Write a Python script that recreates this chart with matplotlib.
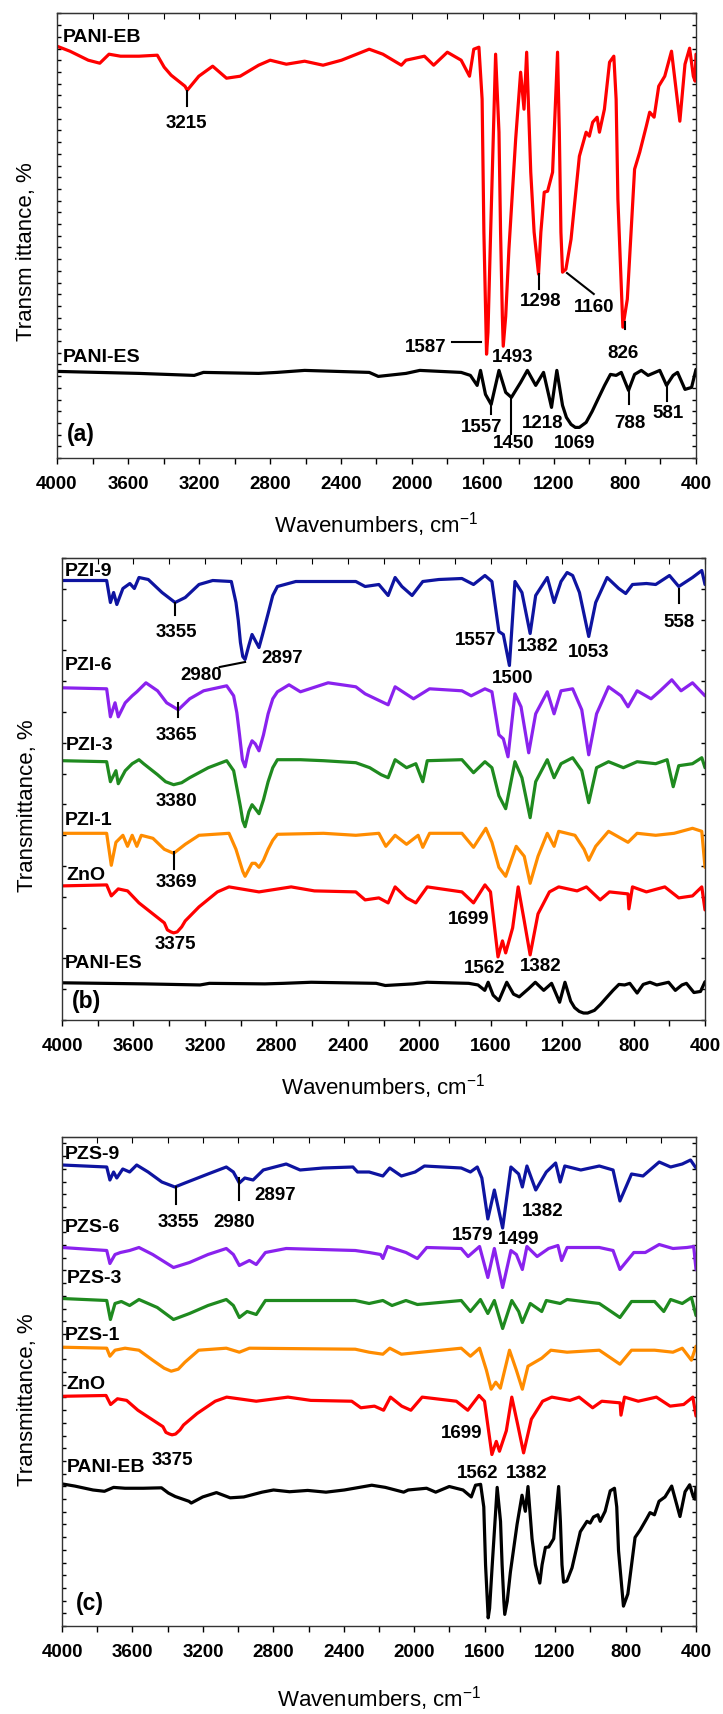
import numpy as np
import matplotlib
matplotlib.use("Agg")
import matplotlib.pyplot as plt
from matplotlib.ticker import MultipleLocator

plt.rcParams['font.family'] = ['Liberation Sans', 'DejaVu Sans']
plt.rcParams['mathtext.default'] = 'regular'

# spectra: wavenumber (cm-1) and transmittance relative to the 4000 cm-1 point (a.u.)
pani_eb_wn = [4000, 3927, 3824, 3759, 3707, 3642, 3538, 3435, 3396, 3357, 3279, 3266, 3201, 3123, 3045,
              2968, 2864, 2799, 2708, 2605, 2501, 2397, 2241, 2164, 2060, 2034, 1930, 1878, 1801, 1723,
              1676, 1652, 1623, 1605, 1595, 1580, 1572, 1557, 1529, 1510, 1501, 1491, 1486, 1472, 1454,
              1416, 1388, 1369, 1354, 1331, 1312, 1287, 1274, 1255, 1236, 1208, 1180, 1170, 1161, 1152,
              1133, 1104, 1057, 1019, 1001, 982, 957, 944, 916, 887, 863, 850, 840, 812, 787,
              746, 717, 680, 661, 636, 610, 576, 538, 491, 462, 436, 415, 405, 400]
pani_eb_t = [0, -5, -14, -17, -8, -10, -10, -9, -21, -29, -40, -44, -30, -20, -32,
             -30, -19, -14, -18, -15, -19, -14, -3, -8, -19, -14, -10, -19, -6, -14,
             -30, -3, -1, -53, -186, -308, -286, -186, -8, -86, -186, -270, -300, -270, -203,
             -93, -26, -63, -6, -126, -186, -228, -186, -146, -145, -126, -6, -86, -186, -226,
             -223, -193, -110, -86, -90, -76, -71, -86, -63, -16, -10, -53, -153, -281, -253,
             -123, -106, -80, -66, -71, -40, -30, -5, -75, -18, -2, -30, -35, -8]

pani_es_wn = [4000, 3538, 3227, 3175, 2864, 2760, 2605, 2241, 2190, 2034, 1956, 1723, 1671, 1633, 1614,
              1586, 1554, 1510, 1472, 1440, 1388, 1350, 1303, 1259, 1214, 1184, 1152, 1130, 1104, 1080,
              1057, 1019, 985, 953, 915, 882, 850, 821, 780, 746, 708, 670, 604, 566, 529, 504, 462,
              425, 400]
pani_es_t = [0, -2, -4, -1, -2, -1, 1, -1, -5, -2, 1, -1, -4, -14, 1,
             -23, -33, 1, -21, -26, -11, 1, -14, -1, -36, 1, -34, -46, -53, -56,
             -56, -51, -40, -28, -14, -3, -4, -1, -19, -3, 1, -4, 1, -14, -4, -1, -18,
             -16, 2]

pzi9_wn = [4000, 3827, 3750, 3729, 3711, 3693, 3659, 3620, 3595, 3569, 3517, 3440, 3367, 3310, 3233,
           3156, 3052, 3026, 3013, 3001, 2988, 2975, 2954, 2936, 2918, 2897, 2877, 2846, 2820, 2794,
           2691, 2536, 2355, 2303, 2226, 2174, 2135, 2097, 2040, 1980, 1890, 1761, 1696, 1632, 1593,
           1554, 1529, 1495, 1464, 1425, 1379, 1348, 1283, 1245, 1206, 1172, 1141, 1103, 1051, 1012,
           948, 883, 844, 806, 728, 676, 599, 547, 470, 418, 400]
pzi9_t = [0, 0, 0, -22, -12, -24, -8, -3, -8, 3, 1, -12, -22, -17, -4,
          0, -1, -22, -40, -62, -76, -79, -65, -54, -60, -67, -54, -33, -15, -6,
          -1, -1, -1, -6, -4, -15, 3, -6, -15, -1, 1, 2, -4, 5, -1,
          -51, -54, -85, -1, -12, -53, -15, 3, -22, -1, 8, 5, -12, -56, -22,
          3, -8, -13, -4, -3, -4, 5, -6, 3, 10, -4]

pzi6_wn = [4000, 3750, 3729, 3703, 3685, 3646, 3607, 3581, 3530, 3465, 3414, 3349, 3285, 3207, 3078,
           3039, 3021, 3006, 2990, 2975, 2954, 2936, 2918, 2897, 2872, 2846, 2820, 2794, 2729, 2665,
           2510, 2355, 2303, 2174, 2135, 2032, 1942, 1761, 1709, 1632, 1593, 1554, 1529, 1503, 1464,
           1430, 1387, 1348, 1283, 1245, 1206, 1141, 1090, 1051, 1007, 940, 870, 831, 780, 702,
           651, 586, 534, 470, 400]
pzi6_t = [0, -1, -29, -15, -29, -15, -8, -4, 5, -3, -15, -22, -11, -3, 2,
          -8, -25, -47, -72, -79, -61, -53, -56, -63, -47, -26, -11, -4, 3, -4,
          5, 1, -6, -17, 1, -11, -1, -3, -8, -1, -4, -47, -51, -69, -6,
          -19, -65, -26, -4, -26, -3, -1, -22, -67, -26, 1, -8, -19, -3, -11,
          -3, 8, -3, 5, -8]

pzi3_wn = [4000, 3750, 3729, 3698, 3685, 3646, 3607, 3569, 3543, 3465, 3420, 3375, 3330, 3285, 3181,
           3078, 3039, 3001, 2988, 2975, 2954, 2936, 2918, 2897, 2872, 2846, 2820, 2794, 2665, 2536,
           2355, 2277, 2213, 2174, 2135, 2071, 2019, 1980, 1955, 1761, 1696, 1632, 1593, 1554, 1516,
           1464, 1425, 1379, 1348, 1283, 1245, 1206, 1141, 1090, 1051, 1007, 940, 857, 780, 676,
           612, 578, 547, 470, 418, 400]
pzi3_t = [0, -1, -21, -10, -23, -10, -3, 1, -3, -14, -21, -24, -22, -17, -7,
          0, -10, -46, -60, -66, -51, -44, -48, -53, -39, -21, -7, 1, 1, 0,
          -2, -7, -14, -17, 1, -7, -3, -21, 0, 1, -12, -1, -7, -35, -48,
          -1, -17, -57, -21, 1, -17, -3, 3, -10, -42, -7, -1, -7, -1, -3,
          1, -26, -5, -3, 3, -7]

pzi1_wn = [4000, 3750, 3724, 3698, 3659, 3633, 3607, 3581, 3556, 3491, 3427, 3375, 3310, 3233, 3065,
           3026, 2988, 2975, 2936, 2918, 2897, 2872, 2846, 2820, 2794, 2536, 2355, 2226, 2187, 2135,
           2071, 2006, 1980, 1942, 1761, 1696, 1627, 1593, 1554, 1516, 1457, 1412, 1379, 1335, 1283,
           1245, 1219, 1128, 1077, 1051, 1012, 940, 831, 780, 676, 573, 470, 418, 400]
pzi1_t = [0, 0, -32, -9, -2, -13, -2, -13, -2, -5, -16, -20, -11, -2, 0,
          -16, -38, -43, -30, -30, -34, -27, -16, -7, -1, 0, -2, 0, -13, -2,
          -11, -2, -14, 0, 0, -14, 5, -9, -34, -43, -13, -23, -50, -23, 0,
          -13, 2, -2, -16, -27, -13, 2, -9, 0, -2, 0, 5, 2, -34]

zno_wn = [4000, 3750, 3724, 3685, 3633, 3569, 3491, 3427, 3410, 3390, 3375, 3355, 3330, 3310, 3233,
          3130, 3065, 2897, 2717, 2587, 2355, 2303, 2226, 2174, 2135, 2071, 2019, 1955, 1761, 1696,
          1632, 1601, 1559, 1534, 1516, 1477, 1446, 1412, 1379, 1335, 1271, 1219, 1116, 1064, 987,
          935, 831, 826, 806, 728, 625, 547, 470, 418, 400]
zno_t = [0, 1, -10, -3, -5, -17, -28, -37, -44, -46, -47, -46, -41, -35, -21,
         -6, -1, -6, -1, -5, -6, -14, -12, -17, -1, -12, -17, -1, -6, -17,
         1, -6, -71, -55, -67, -42, -1, -35, -69, -28, -6, -1, -5, -1, -14,
         -6, -8, -23, -1, -6, -1, -12, -10, -1, -24]

pzs9_wn = [4000, 3746, 3728, 3707, 3689, 3655, 3616, 3576, 3511, 3433, 3359, 3302, 3171, 3067, 3027,
           2993, 2962, 2915, 2857, 2727, 2648, 2518, 2348, 2322, 2256, 2178, 2139, 2073, 1995, 1942,
           1733, 1681, 1642, 1616, 1582, 1545, 1498, 1451, 1407, 1386, 1360, 1310, 1250, 1197, 1171,
           1145, 1054, 949, 871, 832, 766, 701, 609, 544, 478, 431, 400]
pzs9_t = [0, -2, -15, -7, -13, -4, -7, 0, -7, -17, -22, -18, -9, -2, -7,
          -18, -13, -15, -5, 1, -5, -3, -2, -7, -7, -11, -3, -11, -7, -1,
          -3, -7, -2, -13, -54, -25, -63, -2, -9, -22, -1, -25, -7, 2, -17,
          -1, -5, -1, -5, -36, -9, -11, 3, -2, 1, 5, -3]

pzs6_wn = [4000, 3746, 3728, 3699, 3668, 3616, 3563, 3485, 3367, 3276, 3171, 3067, 3027, 2993, 2936,
           2897, 2845, 2727, 2335, 2256, 2191, 2178, 2152, 2047, 1982, 1929, 1733, 1694, 1629, 1582,
           1545, 1498, 1451, 1420, 1386, 1360, 1302, 1237, 1184, 1163, 1132, 949, 871, 832, 753,
           688, 609, 531, 452, 413, 400]
pzs6_t = [0, -3, -16, -7, -5, -3, 0, -7, -20, -15, -7, -1, -7, -18, -13,
          -17, -5, -1, -3, -5, -7, -11, 1, -5, -11, 0, -1, -9, 1, -30,
          -1, -40, -3, -7, -22, 1, -9, -1, 2, -13, 0, 0, -3, -22, -5,
          -5, 3, -1, 0, 1, -22]

pzs3_wn = [4000, 3746, 3725, 3699, 3663, 3616, 3563, 3459, 3367, 3276, 3171, 3067, 3027, 2993, 2949,
           2897, 2845, 2648, 2335, 2256, 2178, 2126, 2047, 1982, 1733, 1681, 1624, 1582, 1545, 1498,
           1446, 1407, 1386, 1341, 1276, 1250, 1171, 1132, 949, 832, 766, 635, 583, 544, 478,
           426, 400]
pzs3_t = [0, -2, -21, -5, -3, -7, -1, -9, -21, -15, -7, -1, -7, -19, -13,
          -16, -2, -2, -2, -5, -2, -7, -2, -6, -2, -13, -1, -15, -2, -30,
          -2, -13, -24, -5, -13, -2, -5, -1, -5, -19, -3, -3, -13, -1, -5,
          1, -17]

pzs1_wn = [4000, 3746, 3728, 3699, 3642, 3563, 3485, 3420, 3380, 3340, 3302, 3224, 3067, 2993, 2936,
           2335, 2256, 2178, 2139, 2073, 1733, 1681, 1629, 1590, 1563, 1537, 1511, 1459, 1420, 1386,
           1354, 1276, 1224, 1132, 949, 832, 766, 635, 531, 478, 426, 400]
pzs1_t = [0, -1, -9, -3, -1, -3, -13, -21, -24, -22, -15, -3, -1, -5, -1,
          -2, -5, -7, -1, -7, -1, -9, -1, -23, -42, -35, -41, -3, -23, -42,
          -19, -11, -3, -5, -3, -17, -3, -3, -5, -1, -13, 1]

spectra = {
    'PANI-EB': (pani_eb_wn, pani_eb_t), 'PANI-ES': (pani_es_wn, pani_es_t), 'ZnO': (zno_wn, zno_t),
    'PZI-1': (pzi1_wn, pzi1_t), 'PZI-3': (pzi3_wn, pzi3_t), 'PZI-6': (pzi6_wn, pzi6_t), 'PZI-9': (pzi9_wn, pzi9_t),
    'PZS-1': (pzs1_wn, pzs1_t), 'PZS-3': (pzs3_wn, pzs3_t), 'PZS-6': (pzs6_wn, pzs6_t), 'PZS-9': (pzs9_wn, pzs9_t),
}

BLUE, PURPLE, GREEN, ORANGE, RED, BLACK = '#0e14a0', '#8a22ee', '#1f8a1f', '#ff8c00', '#ff0000', '#000000'

# panel layout: axes rect, y-range, tick step, ylabel, traces (name, colour, offset, scale, label pos)
panels = [
    dict(rect=[57/723, 1-459/1715, 639/723, 445/1715], ymax=445, ystep=11.7, tag='(a)', tagpos=(3944, 24),
         ylabel='Transm ittance, %', xlab_y=-0.148, ylab_x=-0.047,
         traces=[('PANI-EB', RED, 411.8, 1.0, (3966, 422)),
                 ('PANI-ES', BLACK, 86.6, 1.0, (3966, 102))]),
    dict(rect=[62/723, 1-1021/1715, 643/723, 462/1715], ymax=462, ystep=30.8, tag='(b)', tagpos=(3943, 19),
         ylabel='Transmittance, %', xlab_y=-0.141, ylab_x=-0.054,
         traces=[('PZI-9', BLUE, 439.5, 1.0, (3985, 449.5)),
                 ('PZI-6', PURPLE, 332.2, 1.0, (3985, 355)),
                 ('PZI-3', GREEN, 259.3, 1.0, (3978, 275)),
                 ('PZI-1', ORANGE, 186.7, 1.0, (3985, 200)),
                 ('ZnO', RED, 134.1, 1.0, (3978, 145)),
                 ('PANI-ES', BLACK, 37.2, 0.54, (3985, 57))]),
    dict(rect=[62/723, 1-1627/1715, 634/723, 489/1715], ymax=489, ystep=12.7, tag='(c)', tagpos=(3920, 23.5),
         ylabel='Transmittance, %', xlab_y=-0.147, ylab_x=-0.055,
         traces=[('PZS-9', BLUE, 461, 1.0, (3982, 472)),
                 ('PZS-6', PURPLE, 378.5, 1.0, (3982, 399.4)),
                 ('PZS-3', GREEN, 327.5, 1.0, (3975, 348.3)),
                 ('PZS-1', ORANGE, 278.8, 1.0, (3982, 291.3)),
                 ('ZnO', RED, 229.7, 0.82, (3975, 242.2)),
                 ('PANI-EB', BLACK, 142.1, 0.435, (3975, 159.8))]),
]

# peak annotations: (text, x, y) and leader lines (x1, y1, x2, y2)
peak_text = [
    [('3215', 3270, 336), ('1587', 1925, 111), ('1493', 1435, 102), ('1298', 1274, 157), ('1160', 976, 151),
     ('826', 812, 106), ('1557', 1605, 32), ('1450', 1425, 16), ('1218', 1265, 36), ('1069', 1086, 16),
     ('788', 774, 35), ('581', 557, 45)],
    [('3355', 3362, 388), ('2980', 3220, 345), ('2897', 2768, 362), ('3365', 3357, 285), ('3380', 3357, 219),
     ('3369', 3362, 138), ('3375', 3367, 76), ('1699', 1722, 101.5), ('1562', 1632, 52), ('1382', 1322, 54),
     ('1557', 1684, 380), ('1500', 1477, 342), ('1382', 1335, 374), ('1053', 1051, 368), ('558', 547, 398)],
    [('3355', 3341, 404.5), ('2980', 3022, 404.5), ('2897', 2792, 431), ('1579', 1668, 391.5),
     ('1499', 1406, 387.6), ('1382', 1271, 415), ('1699', 1733, 193), ('3375', 3375, 166.4),
     ('1562', 1642, 153), ('1382', 1362, 153)],
]
peak_lines = [
    [(3270, 367, 3270, 352), (1774, 116, 1614, 116), (1287, 184, 1287, 169), (1127, 185, 976, 164),
     (802, 136, 802, 129), (1554, 57, 1554, 44), (1444, 61, 1444, 24), (780, 67, 780, 54), (566, 72, 566, 57)],
    [(3367, 417, 3367, 405), (3117, 353, 2975, 358), (3349, 317, 3349, 303), (3375, 168, 3375, 151),
     (547, 431, 547, 417)],
    [(3354, 439, 3354, 422), (2993, 448, 2993, 426)],
]

fig = plt.figure(figsize=(7.23, 17.15), dpi=100)

for p, texts, lines in zip(panels, peak_text, peak_lines):
    ax = fig.add_axes(p['rect'])
    for name, col, off, sc, lpos in p['traces']:
        wn, t = spectra[name]
        ax.plot(wn, off + sc * np.array(t), color=col, lw=2.3, solid_joinstyle='round', solid_capstyle='round')
        ax.text(lpos[0], lpos[1], name, ha='left', va='center', fontsize=14, fontweight='bold')
    for s, x, y in texts:
        ax.text(x, y, s, ha='center', va='center', fontsize=13.5, fontweight='bold')
    for x1, y1, x2, y2 in lines:
        ax.plot([x1, x2], [y1, y2], color='black', lw=1.5)
    ax.text(p['tagpos'][0], p['tagpos'][1], p['tag'], ha='left', va='center', fontsize=16.5, fontweight='bold')

    ax.set_xlim(4000, 400)
    ax.set_ylim(0, p['ymax'])
    ax.xaxis.set_major_locator(MultipleLocator(400))
    ax.xaxis.set_minor_locator(MultipleLocator(200))
    ax.yaxis.set_major_locator(MultipleLocator(p['ystep']))
    ax.tick_params(axis='x', which='both', bottom=True, top=False, direction='out', length=4, width=1,
                   labelsize=13.5, pad=8)
    ax.tick_params(axis='y', which='both', left=True, right=True, direction='in', length=3, width=1,
                   labelleft=False)
    top = ax.secondary_xaxis('top')
    top.xaxis.set_major_locator(MultipleLocator(200))
    top.tick_params(which='both', direction='in', length=4, labeltop=False)
    for lab in ax.get_xticklabels():
        lab.set_fontweight('bold')
    for sp in ax.spines.values():
        sp.set_color('#333333')
        sp.set_linewidth(1.0)
    ax.set_xlabel('Wavenumbers, cm$^{-1}$', fontsize=16, va='center')
    ax.xaxis.set_label_coords(0.5, p['xlab_y'])
    ax.set_ylabel(p['ylabel'], fontsize=16, va='center')
    ax.yaxis.set_label_coords(p['ylab_x'], 0.465)

fig.savefig('out.png', dpi=100)
